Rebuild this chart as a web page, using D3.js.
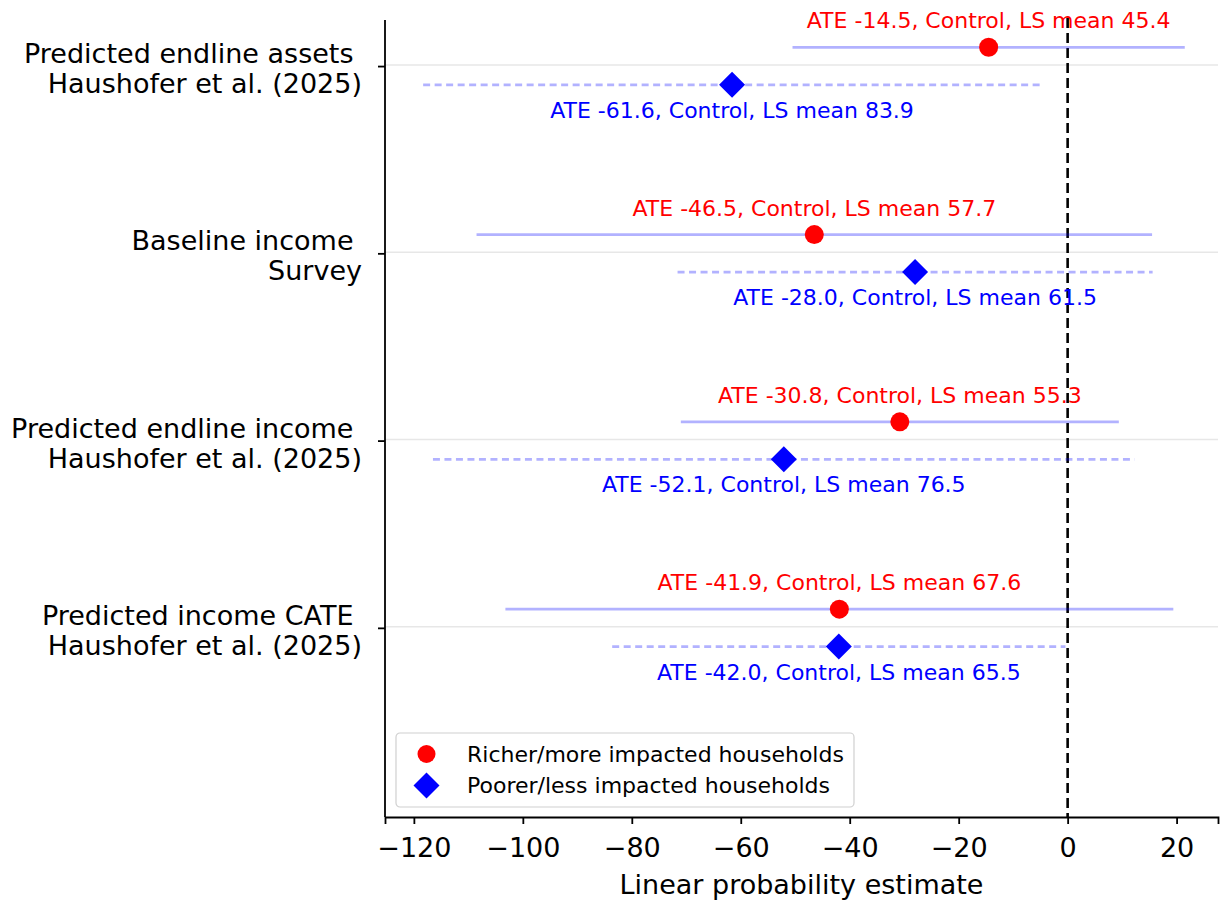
<!DOCTYPE html>
<html>
<head>
<meta charset="utf-8">
<script src="https://cdn.jsdelivr.net/npm/d3@7"></script>
<style>
  body { margin: 0; background: #fff; }
  svg { font-family: 'DejaVu Sans', sans-serif; }
</style>
</head>
<body>
<svg id="chart" width="1225" height="902"></svg>
<script>
// rows, top to bottom
const categories = [
  ['Predicted endline assets', 'Haushofer et al. (2025)'],
  ['Baseline income', 'Survey'],
  ['Predicted endline income', 'Haushofer et al. (2025)'],
  ['Predicted income CATE', 'Haushofer et al. (2025)']
];
const richAte = [-14.5, -46.5, -30.8, -41.9];
const richLo = [-50.5, -108.5, -71.0, -103.2];
const richHi = [21.5, 15.5, 9.4, 19.4];
const richCtrl = [45.4, 57.7, 55.3, 67.6];
const poorAte = [-61.6, -28.0, -52.1, -42.0];
const poorLo = [-118.3, -71.6, -116.5, -83.6];
const poorHi = [-4.9, 15.6, 12.3, -0.4];
const poorCtrl = [83.9, 61.5, 76.5, 65.5];
const xTicks = [-120, -100, -80, -60, -40, -20, 0, 20];
const legendLabels = ['Richer/more impacted households', 'Poorer/less impacted households'];

const RED = '#ff0000';
const BLUE = '#0000ff';
const OFFSET = 0.1;
const AXIS_FONT = 27;
const NOTE_FONT = 22;

const svg = d3.select('#chart');
const x = d3.scaleLinear().domain([-125.3, 27.6]).range([385, 1218]);
const y = d3.scaleLinear().domain([-0.246, 4.01]).range([20, 817]);
const [plotTop, plotBottom] = y.range();

// faint row gridlines
svg.append('g').selectAll('line').data(categories).join('line')
  .attr('x1', x.range()[0]).attr('x2', x.range()[1])
  .attr('y1', (d, i) => y(i) - 1).attr('y2', (d, i) => y(i) - 1)
  .attr('stroke', '#b0b0b0').attr('stroke-opacity', 0.3).attr('stroke-width', 1.5);

// zero line
svg.append('line')
  .attr('x1', x(0)).attr('x2', x(0))
  .attr('y1', plotTop - 2).attr('y2', plotBottom)
  .attr('stroke', '#000').attr('stroke-width', 2.6)
  .attr('stroke-dasharray', '10,5');

const series = [
  { ate: richAte, lo: richLo, hi: richHi, ctrl: richCtrl, dy: -OFFSET, color: RED, dash: null, shape: 'circle', labelDy: -19 },
  { ate: poorAte, lo: poorLo, hi: poorHi, ctrl: poorCtrl, dy: OFFSET, color: BLUE, dash: '7,4.5', shape: 'diamond', labelDy: 33 }
];

const diamond = (cx, cy, r) => `M${cx},${cy - r}L${cx + r},${cy}L${cx},${cy + r}L${cx - r},${cy}Z`;

series.forEach(s => {
  const g = svg.append('g');
  const idx = d3.range(s.ate.length);
  g.selectAll('line.ci').data(idx).join('line')
    .attr('class', 'ci')
    .attr('x1', i => x(s.lo[i])).attr('x2', i => x(s.hi[i]))
    .attr('y1', i => y(i + s.dy)).attr('y2', i => y(i + s.dy))
    .attr('stroke', BLUE).attr('stroke-opacity', 0.3).attr('stroke-width', 2.7)
    .attr('stroke-dasharray', s.dash);
  if (s.shape === 'circle') {
    g.selectAll('circle').data(idx).join('circle')
      .attr('cx', i => x(s.ate[i])).attr('cy', i => y(i + s.dy)).attr('r', 9.5)
      .attr('fill', s.color);
  }
  else {
    g.selectAll('path').data(idx).join('path')
      .attr('d', i => diamond(x(s.ate[i]), y(i + s.dy), 13))
      .attr('fill', s.color);
  }
  g.selectAll('text').data(idx).join('text')
    .attr('x', i => x(s.ate[i])).attr('y', i => y(i + s.dy) + s.labelDy)
    .attr('text-anchor', 'middle')
    .attr('font-size', NOTE_FONT).attr('fill', s.color)
    .text(i => `ATE ${s.ate[i].toFixed(1)}, Control, LS mean ${s.ctrl[i].toFixed(1)}`);
});

// axes
const xAxis = svg.append('g')
  .attr('transform', `translate(0,${plotBottom})`)
  .call(d3.axisBottom(x).tickValues(xTicks).tickSize(7).tickPadding(14)
    .tickFormat(d => (d < 0 ? '\u2212' + Math.abs(d) : `${d}`)));
xAxis.select('.domain').attr('stroke-width', 1.8);
xAxis.selectAll('.tick line').attr('stroke-width', 1.8);
xAxis.selectAll('.tick text').attr('font-size', AXIS_FONT).attr('fill', '#000')
  .attr('font-family', 'DejaVu Sans');

const yAxis = svg.append('g')
  .attr('transform', `translate(${x.range()[0]},0)`)
  .call(d3.axisLeft(y).tickValues(d3.range(categories.length)).tickSize(7).tickFormat(''));
yAxis.select('.domain').attr('d', `M0,${plotTop}V${plotBottom}`).attr('stroke-width', 1.8);
yAxis.selectAll('.tick line').attr('stroke-width', 1.8);

svg.append('g').selectAll('text').data(categories).join('text')
  .attr('text-anchor', 'end').attr('font-size', AXIS_FONT).attr('fill', '#000')
  .each(function (d, i) {
    const t = d3.select(this);
    t.append('tspan').attr('x', 353.5).attr('y', y(i) - 3).text(d[0]);
    t.append('tspan').attr('x', 362).attr('y', y(i) + 27).text(d[1]);
  });

svg.append('text')
  .attr('x', (x.range()[0] + x.range()[1]) / 2).attr('y', 894)
  .attr('text-anchor', 'middle').attr('font-size', AXIS_FONT)
  .text('Linear probability estimate');

// legend
const legend = svg.append('g').attr('transform', 'translate(396,733)');
legend.append('rect').attr('width', 458).attr('height', 74).attr('rx', 4)
  .attr('fill', '#fff').attr('fill-opacity', 0.8)
  .attr('stroke', '#d0d0d0').attr('stroke-width', 1.2);
legend.append('circle').attr('cx', 30.5).attr('cy', 21).attr('r', 9).attr('fill', RED);
legend.append('path').attr('d', diamond(30.5, 52.5, 13)).attr('fill', BLUE);
legend.selectAll('text').data(legendLabels).join('text')
  .attr('x', 71).attr('y', (d, i) => 21 + i * 31.5)
  .attr('dominant-baseline', 'central').attr('font-size', NOTE_FONT)
  .text(d => d);
</script>
</body>
</html>
